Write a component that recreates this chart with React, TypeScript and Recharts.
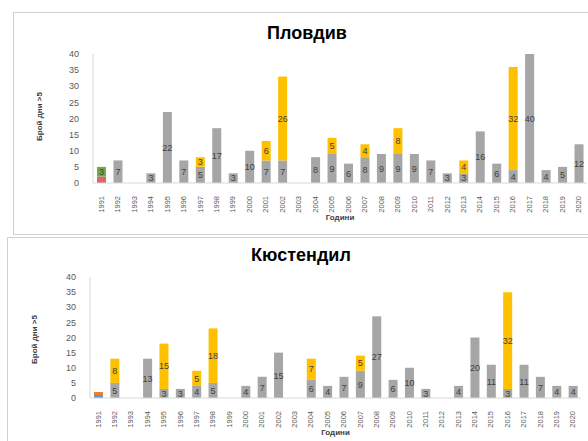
import { BarChart, Bar, XAxis, YAxis, LabelList } from 'recharts';

const years = [
  '1991', '1992', '1993', '1994', '1995', '1996', '1997', '1998', '1999', '2000',
  '2001', '2002', '2003', '2004', '2005', '2006', '2007', '2008', '2009', '2010',
  '2011', '2012', '2013', '2014', '2015', '2016', '2017', '2018', '2019', '2020',
];
const yTicks = [0, 5, 10, 15, 20, 25, 30, 35, 40];

// Пловдив
const plovdivGray = [0, 7, 0, 3, 22, 7, 5, 17, 3, 10, 7, 7, 0, 8, 9, 6, 8, 9, 9, 9, 7, 3, 3, 16, 6, 4, 40, 4, 5, 12];
const plovdivYellow = [0, 0, 0, 0, 0, 0, 3, 0, 0, 0, 6, 26, 0, 0, 5, 0, 4, 0, 8, 0, 0, 0, 4, 0, 0, 32, 0, 0, 0, 0];
const plovdivLow = [2, 0, 0, 0, 0, 0, 0, 0, 0, 0, 0, 0, 0, 0, 0, 0, 0, 0, 0, 0, 0, 0, 0, 0, 0, 0, 0, 0, 0, 0];
const plovdivHigh = [3, 0, 0, 0, 0, 0, 0, 0, 0, 0, 0, 0, 0, 0, 0, 0, 0, 0, 0, 0, 0, 0, 0, 0, 0, 0, 0, 0, 0, 0];

// Кюстендил
const kyustGray = [0, 5, 0, 13, 3, 3, 4, 5, 0, 4, 7, 15, 0, 6, 4, 7, 9, 27, 6, 10, 3, 0, 4, 20, 11, 3, 11, 7, 4, 4];
const kyustYellow = [0, 8, 0, 0, 15, 0, 5, 18, 0, 0, 0, 0, 0, 7, 0, 0, 5, 0, 0, 0, 0, 0, 0, 0, 0, 32, 0, 0, 0, 0];
const kyustLow = [1, 0, 0, 0, 0, 0, 0, 0, 0, 0, 0, 0, 0, 0, 0, 0, 0, 0, 0, 0, 0, 0, 0, 0, 0, 0, 0, 0, 0, 0];
const kyustHigh = [1, 0, 0, 0, 0, 0, 0, 0, 0, 0, 0, 0, 0, 0, 0, 0, 0, 0, 0, 0, 0, 0, 0, 0, 0, 0, 0, 0, 0, 0];

const FONT = '"Liberation Sans", Arial, sans-serif';
const showVal = (v: any) => (v ? v : '');

const YearTick = (props: any) => {
  const { x, y, payload } = props;
  return (
    <text
      x={x}
      y={y + 5}
      transform={`rotate(-90, ${x}, ${y + 5})`}
      textAnchor="end"
      dominantBaseline="central"
      fontSize={7.5}
      fill="#595959"
      fontFamily={FONT}
    >
      {payload.value}
    </text>
  );
};

interface PanelProps {
  title: string;
  gray: number[];
  yellow: number[];
  low: number[];
  high: number[];
  lowColor: string;
  highColor: string;
  labelHigh: boolean;
  left: number;
  top: number;
  height: number;
  yAxisWidth: number;
  margin: { top: number; right: number; bottom: number; left: number };
  titleX: number;
  titleY: number;
  axisTitleY: number;
  yLabelX: number;
}

function Panel(p: PanelProps) {
  const data = years.map((year, i) => ({
    year,
    low: p.low[i],
    high: p.high[i],
    gray: p.gray[i],
    yellow: p.yellow[i],
  }));
  const plotMid = (p.yAxisWidth + (600 - p.margin.right)) / 2;
  return (
    <div
      style={{
        position: 'absolute',
        left: p.left,
        top: p.top,
        width: 600,
        height: p.height,
        border: '1px solid #d0d0d0',
        background: '#fff',
        boxSizing: 'border-box',
      }}
    >
      <div
        style={{
          position: 'absolute',
          left: p.titleX - 100,
          width: 200,
          top: p.titleY,
          textAlign: 'center',
          fontFamily: FONT,
          fontWeight: 'bold',
          fontSize: 18,
          color: '#000',
        }}
      >
        {p.title}
      </div>
      <div
        style={{
          position: 'absolute',
          left: p.yLabelX - 50,
          top: p.margin.top + 58,
          width: 100,
          textAlign: 'center',
          transform: 'rotate(-90deg)',
          fontFamily: FONT,
          fontWeight: 'bold',
          fontSize: 8,
          color: '#404040',
        }}
      >
        Брой дни &gt;5
      </div>
      <div
        style={{
          position: 'absolute',
          left: plotMid - 50,
          width: 100,
          top: p.axisTitleY,
          textAlign: 'center',
          fontFamily: FONT,
          fontWeight: 'bold',
          fontSize: 8,
          color: '#404040',
        }}
      >
        Години
      </div>
      <BarChart
        width={600}
        height={p.height}
        data={data}
        margin={p.margin}
        barSize={9}
        style={{ position: 'absolute', left: 0, top: 0 }}
      >
        <XAxis
          dataKey="year"
          interval={0}
          tickLine={false}
          axisLine={{ stroke: '#d9d9d9' }}
          tick={<YearTick />}
          height={30}
        />
        <YAxis
          domain={[0, 40]}
          ticks={yTicks}
          tickLine={false}
          axisLine={{ stroke: '#d9d9d9' }}
          tick={{ fontSize: 9, fill: '#595959', fontFamily: FONT }}
          width={p.yAxisWidth}
          tickMargin={8}
        />
        <Bar dataKey="low" stackId="s" fill={p.lowColor} isAnimationActive={false} />
        <Bar dataKey="high" stackId="s" fill={p.highColor} isAnimationActive={false}>
          {p.labelHigh && (
            <LabelList dataKey="high" position="center" formatter={showVal} fontSize={9} fill="#404040" fontFamily={FONT} />
          )}
        </Bar>
        <Bar dataKey="gray" stackId="s" fill="#a6a6a6" isAnimationActive={false}>
          <LabelList dataKey="gray" position="center" formatter={showVal} fontSize={9} fill="#404040" fontFamily={FONT} />
        </Bar>
        <Bar dataKey="yellow" stackId="s" fill="#ffc000" isAnimationActive={false}>
          <LabelList dataKey="yellow" position="center" formatter={showVal} fontSize={9} fill="#404040" fontFamily={FONT} />
        </Bar>
      </BarChart>
    </div>
  );
}

export default function App() {
  return (
    <div
      style={{
        position: 'absolute',
        left: 0,
        top: 0,
        width: 588,
        height: 441,
        overflow: 'hidden',
        background: '#fff',
      }}
    >
      <Panel
        title="Пловдив"
        gray={plovdivGray}
        yellow={plovdivYellow}
        low={plovdivLow}
        high={plovdivHigh}
        lowColor="#e06666"
        highColor="#70ad47"
        labelHigh={true}
        left={13}
        top={12}
        height={223}
        yAxisWidth={79}
        margin={{ top: 41, right: 27, bottom: 23, left: 0 }}
        titleX={293}
        titleY={10}
        axisTitleY={200}
        yLabelX={25}
      />
      <Panel
        title="Кюстендил"
        gray={kyustGray}
        yellow={kyustYellow}
        low={kyustLow}
        high={kyustHigh}
        lowColor="#5b9bd5"
        highColor="#ed7d31"
        labelHigh={false}
        left={7}
        top={237}
        height={215}
        yAxisWidth={82}
        margin={{ top: 39, right: 27, bottom: 25, left: 0 }}
        titleX={293}
        titleY={7}
        axisTitleY={190}
        yLabelX={26}
      />
    </div>
  );
}
